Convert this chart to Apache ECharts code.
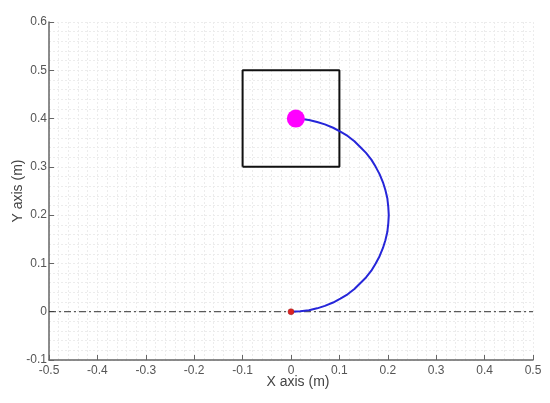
<!DOCTYPE html>
<html><head><meta charset="utf-8">
<script src="https://cdn.jsdelivr.net/npm/echarts@6/dist/echarts.min.js"></script>
<style>html,body{margin:0;padding:0;background:#fff}#c{width:550px;height:403px}</style>
</head><body><div id="c"></div>
<script>
const xTicks = [-0.5,-0.4,-0.3,-0.2,-0.1,0,0.1,0.2,0.3,0.4,0.5];
const yTicks = [-0.1,0,0.1,0.2,0.3,0.4,0.5,0.6];
const pathX = [0, 0.019, 0.037, 0.054, 0.070, 0.087, 0.102, 0.117, 0.131, 0.143, 0.155, 0.166, 0.175, 0.183, 0.190, 0.195, 0.199, 0.201,
               0.202,
               0.201, 0.199, 0.195, 0.190, 0.183, 0.175, 0.166, 0.155, 0.143, 0.131, 0.117, 0.102, 0.087, 0.070, 0.054, 0.037, 0.022, 0.01];
const pathY = [0, 0.001, 0.003, 0.007, 0.012, 0.019, 0.027, 0.036, 0.047, 0.059, 0.071, 0.085, 0.100, 0.115, 0.132, 0.148, 0.165, 0.183,
               0.200,
               0.217, 0.235, 0.252, 0.268, 0.285, 0.300, 0.315, 0.329, 0.341, 0.353, 0.364, 0.373, 0.381, 0.388, 0.393, 0.397, 0.399, 0.400];
const boxX = [-0.1, 0.1, 0.1, -0.1, -0.1];
const boxY = [0.3, 0.3, 0.5, 0.5, 0.3];
const refX = [-0.5, 0.5];
const refY = [0, 0];
const ballX = [0.01];
const ballY = [0.4];
const originX = [0];
const originY = [0];

const zip = (a,b) => a.map((v,i)=>[v,b[i]]);
const chart = echarts.init(document.getElementById('c'));
const lab = {color:'#555', fontSize:12, fontFamily:'Liberation Sans, Arial, sans-serif'};
const faint = {show:true, lineStyle:{color:'#ececec', width:1, type:[2,2]}};
chart.setOption({
  animation:false,
  grid:{left:49, right:17, top:22, bottom:43, containLabel:false, outerBoundsMode:'none'},
  xAxis:{type:'value', min:xTicks[0], max:xTicks[xTicks.length-1], interval:0.1,
    name:'X axis (m)', nameLocation:'middle', nameGap:15, nameMoveOverlap:false,
    nameTextStyle:{color:'#444', fontSize:14, fontFamily:'Liberation Sans, Arial, sans-serif', padding:[0,0,0,14]},
    axisLine:{show:true, onZero:false, lineStyle:{color:'#666', width:1.5}},
    axisTick:{show:true, inside:true, length:5, lineStyle:{color:'#666'}},
    axisLabel:Object.assign({margin:5, formatter:v=>String(Math.round(v*10)/10)}, lab),
    splitLine:faint, minorTick:{show:false, splitNumber:5}, minorSplitLine:faint},
  yAxis:{type:'value', min:yTicks[0], max:yTicks[yTicks.length-1], interval:0.1,
    name:'Y axis (m)', nameLocation:'middle', nameGap:24, nameMoveOverlap:false,
    nameTextStyle:{color:'#444', fontSize:14, fontFamily:'Liberation Sans, Arial, sans-serif'},
    axisLine:{show:true, onZero:false, lineStyle:{color:'#666', width:1.5}},
    axisTick:{show:true, inside:true, length:5, lineStyle:{color:'#666'}},
    axisLabel:Object.assign({margin:2, formatter:v=>String(Math.round(v*10)/10)}, lab),
    splitLine:faint, minorTick:{show:false, splitNumber:5}, minorSplitLine:faint},
  series:[
    {type:'line', data:zip(refX,refY), symbol:'none', lineStyle:{color:'#333', width:1, type:[7,3,2,3]}, z:2},
    {type:'line', data:zip(boxX,boxY), symbol:'none', lineStyle:{color:'#111', width:2}, z:3},
    {type:'line', data:zip(pathX,pathY), symbol:'none', smooth:false, lineStyle:{color:'#2626d9', width:2}, z:4},
    {type:'scatter', data:zip(ballX,ballY), symbolSize:18, itemStyle:{color:'#ff00ff', opacity:1}, z:5},
    {type:'scatter', data:zip(originX,originY), symbolSize:6, itemStyle:{color:'#dd2222', opacity:1, borderColor:'#992222', borderWidth:0.5}, z:6}
  ]
});
</script></body></html>
